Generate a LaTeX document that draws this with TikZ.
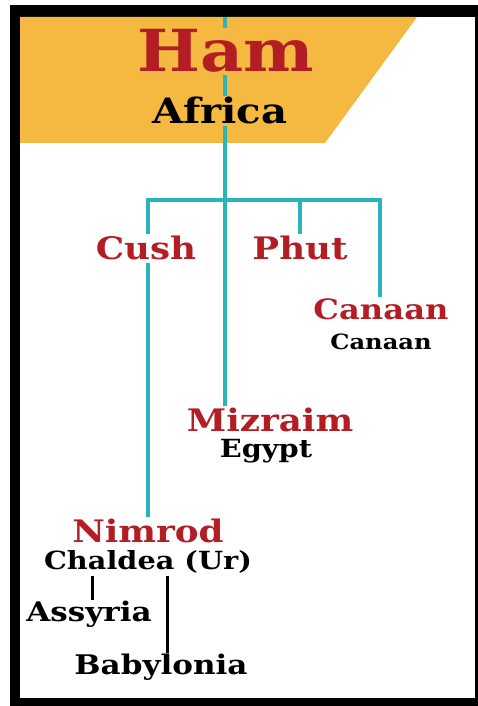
\documentclass[tikz,border=0pt]{standalone}
\usepackage{fontspec}
\newfontfamily\namefont[FakeStretch=1.15]{DejaVu Serif}
\usepackage{tikz}
\usetikzlibrary{positioning}
\definecolor{hamorange}{RGB}{245,185,66}
\definecolor{hamred}{RGB}{178,30,36}
\definecolor{hamteal}{RGB}{40,182,186}

\tikzset{
	son/.style={text=hamred, font=\namefont\bfseries\fontsize{#1}{#1}\selectfont, inner sep=2pt, anchor=base},
	son/.default=31,
	land/.style={text=black, font=\namefont\bfseries\fontsize{#1}{#1}\selectfont, inner sep=1.5pt, anchor=base},
	land/.default=25,
	teal line/.style={draw=hamteal, line width=4pt},
	black line/.style={draw=black, line width=3pt},
}

\begin{document}
\begin{tikzpicture}[x=1pt, y=1pt]

\useasboundingbox (0,0) rectangle (478,706);

\fill[black] (10,0) rectangle (478,701); % frame
\fill[white] (20,8) rectangle (475,689);
\fill[hamorange] (20,689) -- (417,689) -- (325,563) -- (20,563) -- cycle; % banner

\coordinate (trunk top) at (225,689);
\coordinate (bar left)  at (148,506);
\coordinate (bar right) at (380,506);

% Ham and sons
\node[son=58] (ham)     at (226,634) {Ham};
\node[land=35] (africa) at (220,582) {Africa};

\node[son] (cush)    at (146,446) {Cush};
\node[son] (phut)    at (300,446) {Phut};
\node[son=28] (canaan) at (381,386) {Canaan};
\node[land=21] (canaan land) at (381,356) {Canaan};
\node[son] (mizraim) at (270,274) {Mizraim};
\node[land] (egypt)  at (266,248) {Egypt};

% Nimrod
\node[son] (nimrod)   at (148,163) {Nimrod};
\node[land] (chaldea) at (148,136) {Chaldea (Ur)};
\node[land=27] (assyria)   at (89,84)  {Assyria};
\node[land=27] (babylonia) at (161,31) {Babylonia};

\draw[teal line] (trunk top) -- (trunk top |- ham.north);
\draw[teal line] (ham.south -| trunk top) -- (africa.north -| trunk top);
\draw[teal line] (africa.south -| trunk top) -- (mizraim.north -| trunk top); % to Mizraim
\draw[teal line] (cush.north -| bar left) -- (bar left) -- (bar right) -- (canaan.north -| bar right);
\draw[teal line] (bar left -| phut) -- (phut.north);
\draw[teal line] (cush.south -| bar left) -- (nimrod.north -| bar left); % to Nimrod

\draw[black line] (chaldea.south -| 92,0) -- (assyria.north -| 92,0);
\draw[black line] (chaldea.south -| 167,0) -- (babylonia.north -| 167,0);

\end{tikzpicture}
\end{document}
